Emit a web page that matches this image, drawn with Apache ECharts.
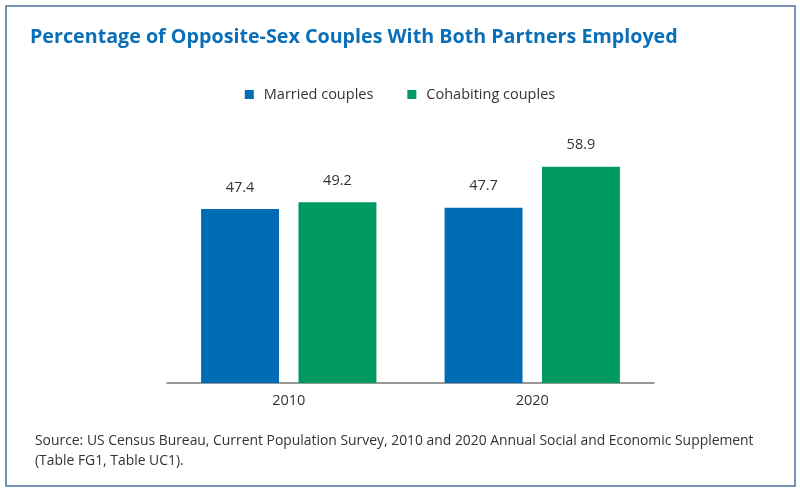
<!DOCTYPE html>
<html>
<head>
<meta charset="utf-8">
<script src="https://cdn.jsdelivr.net/npm/echarts@6/dist/echarts.min.js"></script>
<style>
  html, body { margin: 0; padding: 0; background: #fff; }
  #chart { width: 800px; height: 490px; }
</style>
</head>
<body>
<div id="chart"></div>
<script>
// data
var years = ['2010', '2020'];
var married = [47.4, 47.7];
var cohabiting = [49.2, 58.9];
var seriesNames = ['Married couples', 'Cohabiting couples'];
var colors = ['#006cb6', '#00995f'];

var myChart = echarts.init(document.getElementById('chart'));
var font = '"Open Sans", sans-serif';

myChart.setOption({
    color: colors,
    animation: false,
    title: {
        text: 'Percentage of Opposite-Sex Couples With Both Partners Employed',
        left: 25,
        top: 22,
        textStyle: {
            color: '#0b6eb8',
            fontFamily: font,
            fontWeight: 'bold',
            fontSize: 19.7
        }
    },
    legend: {
        data: seriesNames,
        top: 82,
        left: 'center',
        itemWidth: 9,
        itemHeight: 9,
        itemGap: 34,
        icon: 'rect',
        textStyle: {
            color: '#333',
            fontFamily: font,
            fontSize: 14.5,
            padding: [0, 0, 0, 5]
        }
    },
    grid: {
        left: 167,
        right: 146,
        top: 126,
        bottom: 107
    },
    xAxis: {
        type: 'category',
        data: years,
        axisTick: { show: false },
        axisLine: { lineStyle: { color: '#777', width: 1.5 } },
        axisLabel: {
            color: '#333',
            fontFamily: font,
            fontSize: 14.5,
            margin: 10
        }
    },
    yAxis: {
        type: 'value',
        min: 0,
        max: 70,
        show: false,
        splitLine: { show: false }
    },
    series: [
        {
            name: seriesNames[0],
            type: 'bar',
            data: married,
            barWidth: '32%',
            barGap: '25%',
            label: {
                show: true,
                position: 'top',
                distance: 14,
                color: '#333',
                fontFamily: font,
                fontSize: 14.5,
                formatter: function (p) { return p.value.toFixed(1); }
            }
        },
        {
            name: seriesNames[1],
            type: 'bar',
            data: cohabiting,
            barWidth: '32%',
            label: {
                show: true,
                position: 'top',
                distance: 14,
                color: '#333',
                fontFamily: font,
                fontSize: 14.5,
                formatter: function (p) { return p.value.toFixed(1); }
            }
        }
    ],
    graphic: [
        {
            type: 'rect',
            shape: { x: 6, y: 6, width: 789, height: 480 },
            style: { fill: null, stroke: '#4a6f9c', lineWidth: 1.5 },
            silent: true
        },
        {
            type: 'text',
            left: 35,
            top: 431,
            style: {
                text: 'Source: US Census Bureau, Current Population Survey, 2010 and 2020 Annual Social and Economic Supplement\n(Table FG1, Table UC1).',
                fill: '#333',
                font: '13.9px "Open Sans", sans-serif',
                lineHeight: 20
            }
        }
    ]
});
</script>
</body>
</html>
